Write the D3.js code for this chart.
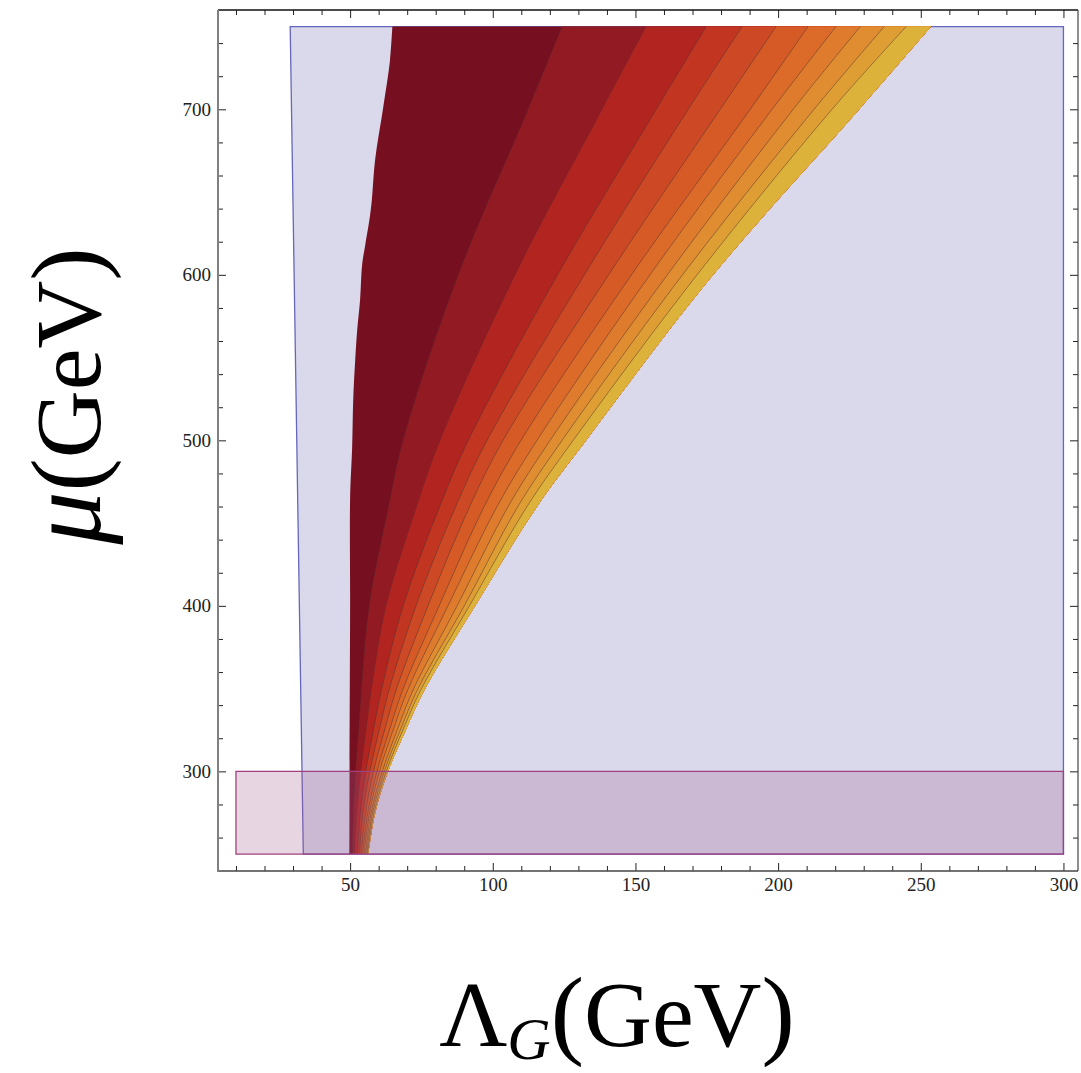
<!DOCTYPE html>
<html>
<head>
<meta charset="utf-8">
<script src="https://cdn.jsdelivr.net/npm/d3@7"></script>
<style>
  html, body { margin: 0; padding: 0; background: #fff; }
  svg { display: block; }
  .tick text { font-family: "Liberation Serif", "DejaVu Serif", serif; font-size: 19px; fill: #222; }
</style>
</head>
<body>
<div id="chart"></div>
<script>
// ---------------- data ----------------
const xMajorTicks = [50, 100, 150, 200, 250, 300];
const xMinorTicks = [10, 20, 30, 40, 60, 70, 80, 90, 110, 120, 130, 140, 160, 170, 180, 190,
                     210, 220, 230, 240, 260, 270, 280, 290];
const yMajorTicks = [300, 400, 500, 600, 700];
const yMinorTicks = [260, 280, 320, 340, 360, 380, 420, 440, 460, 480, 520, 540, 560, 580,
                     620, 640, 660, 680, 720, 740];

// allowed (lavender) region: corners (Λ_G, μ)
const allowedRegion = [[29.0, 750], [300, 750], [300, 250], [33.6, 250]];
// excluded low-μ strip (pink)
const lowMuStrip = [[10, 300], [300, 300], [300, 250], [10, 250]];

// contour bands: μ levels, and Λ_G positions of the 10 interior contour lines at each level
const contourY = [750, 700, 600, 500, 460, 400, 350, 325, 300, 275, 250];
const contourX = [
  [124.3, 153.7, 174.8, 187.4, 199.3, 210.5, 220.3, 228.8, 237.2, 244.9],
  [112.4, 138.3, 157.3, 168.5, 179.7, 190.2, 197.9, 205.3, 212.6, 218.9],
  [ 87.9, 107.8, 122.7, 132.1, 140.6, 148.6, 155.1, 161.2, 166.5, 171.6],
  [ 68.6,  81.5,  91.4,  98.0, 103.6, 109.9, 115.5, 120.1, 124.3, 128.2],
  [ 63.5,  73.3,  81.4,  87.0,  91.9,  97.0, 101.5, 105.4, 108.8, 112.0],
  [ 56.7,  62.6,  68.6,  73.1,  77.3,  81.2,  84.3,  87.5,  90.0,  91.8],
  [ 54.0,  57.5,  61.1,  63.8,  66.3,  68.6,  70.4,  72.3,  73.8,  75.0],
  [ 53.0,  55.6,  58.2,  60.2,  62.1,  63.8,  65.1,  66.5,  67.6,  68.5],
  [ 51.9,  53.7,  55.5,  56.9,  58.2,  59.4,  60.3,  61.3,  62.0,  62.7],
  [ 51.2,  52.4,  53.6,  54.5,  55.4,  56.2,  56.8,  57.4,  57.9,  58.4],
  [ 50.8,  51.6,  52.6,  53.3,  53.9,  54.4,  54.9,  55.4,  55.8,  56.1]
];
// outer (right) edge of the contoured region at each contourY level
const outerEdgeX = [253.6, 228.4, 177.2, 132.7, 115.5, 93.8, 76.3, 69.5, 63.3, 58.8, 56.4];
// left edge of the contoured region
const leftEdgeY = [750, 730, 700, 670, 645, 636, 618, 606, 585, 567, 549, 525, 495, 465, 400, 300, 250];
const leftEdgeX = [64.8, 64.0, 61.5, 58.8, 57.6, 57.0, 55.3, 54.2, 53.5, 52.5, 51.8, 51.1, 50.7, 50.0, 50.0, 49.8, 49.75];

const bandColors = ["#761020", "#921a22", "#b22420", "#c23621", "#cd4824", "#d65a26",
                    "#dc6a29", "#df7b2c", "#e08c30", "#df9e34", "#ddb23a"];

// ---------------- drawing ----------------
const W = 1081, H = 1073;
const svg = d3.select("#chart").append("svg").attr("width", W).attr("height", H);
svg.append("rect").attr("width", W).attr("height", H).attr("fill", "#fff");

const x = d3.scaleLinear().domain([3.7, 305.1]).range([218, 1078]);
const y = d3.scaleLinear().domain([239.8, 760]).range([871, 10]);

const poly = d3.line().x(d => x(d[0])).y(d => y(d[1]));
const curve = d3.line().x(d => x(d[0])).y(d => y(d[1])).curve(d3.curveCatmullRom.alpha(0.5));

// lavender allowed region
svg.append("path")
  .attr("d", poly(allowedRegion) + "Z")
  .attr("fill", "#d9d9eb")
  .attr("stroke", "#6666bb")
  .attr("stroke-width", 1.3);

// contour bands
const outerPts = contourY.map((yy, i) => [outerEdgeX[i], yy]);
const outerRev = outerPts.slice().reverse();
function boundary(k) {
  if (k === 0) return leftEdgeY.map((yy, i) => [leftEdgeX[i], yy]);
  return contourY.map((yy, i) => [contourX[i][k - 1], yy]);
}
const gBands = svg.append("g");
bandColors.forEach((c, k) => {
  const d = curve(boundary(k)) + curve(outerRev).replace(/^M/, "L") + "Z";
  gBands.append("path").attr("d", d).attr("fill", c).attr("stroke", "none");
});
for (let k = 1; k <= 10; k++) {
  gBands.append("path")
    .attr("d", curve(boundary(k)))
    .attr("fill", "none")
    .attr("stroke", "#4a3434")
    .attr("stroke-opacity", k < 3 ? 0.35 : 0.55)
    .attr("stroke-width", 0.9);
}

// pink low-mu strip
svg.append("path")
  .attr("d", poly(lowMuStrip) + "Z")
  .attr("fill", "#a3578b")
  .attr("fill-opacity", 0.25)
  .attr("stroke", "#a0407f")
  .attr("stroke-width", 1.3);

// ---------------- frame & axes ----------------
const fLeft = 218, fRight = 1078, fTop = 10, fBottom = 871;
function styleAxis(g) {
  g.select(".domain").remove();
  g.selectAll(".tick line").attr("stroke", "#222").attr("stroke-width", 1);
}
// bottom
svg.append("g").attr("transform", `translate(0,${fBottom})`)
  .call(d3.axisBottom(x).tickValues(xMajorTicks).tickSize(-8).tickPadding(7).tickFormat(d3.format("d")))
  .call(styleAxis);
svg.append("g").attr("transform", `translate(0,${fBottom})`)
  .call(d3.axisBottom(x).tickValues(xMinorTicks).tickSize(-5).tickFormat(""))
  .call(styleAxis);
// top
svg.append("g").attr("transform", `translate(0,${fTop})`)
  .call(d3.axisTop(x).tickValues(xMajorTicks).tickSize(-8).tickFormat(""))
  .call(styleAxis);
svg.append("g").attr("transform", `translate(0,${fTop})`)
  .call(d3.axisTop(x).tickValues(xMinorTicks).tickSize(-5).tickFormat(""))
  .call(styleAxis);
// left
svg.append("g").attr("transform", `translate(${fLeft},0)`)
  .call(d3.axisLeft(y).tickValues(yMajorTicks).tickSize(-8).tickPadding(7).tickFormat(d3.format("d")))
  .call(styleAxis);
svg.append("g").attr("transform", `translate(${fLeft},0)`)
  .call(d3.axisLeft(y).tickValues(yMinorTicks).tickSize(-5).tickFormat(""))
  .call(styleAxis);
// right
svg.append("g").attr("transform", `translate(${fRight},0)`)
  .call(d3.axisRight(y).tickValues(yMajorTicks).tickSize(-8).tickFormat(""))
  .call(styleAxis);
svg.append("g").attr("transform", `translate(${fRight},0)`)
  .call(d3.axisRight(y).tickValues(yMinorTicks).tickSize(-5).tickFormat(""))
  .call(styleAxis);

// frame lines
svg.append("line").attr("x1", fLeft).attr("x2", fRight).attr("y1", fTop).attr("y2", fTop)
  .attr("stroke", "#111").attr("stroke-width", 1.3);
svg.append("line").attr("x1", fRight).attr("x2", fRight).attr("y1", fTop).attr("y2", fBottom)
  .attr("stroke", "#333").attr("stroke-width", 1.1);
svg.append("line").attr("x1", fLeft).attr("x2", fRight).attr("y1", fBottom).attr("y2", fBottom)
  .attr("stroke", "#444").attr("stroke-width", 1.6);
svg.append("line").attr("x1", fLeft).attr("x2", fLeft).attr("y1", fTop).attr("y2", fBottom + 1)
  .attr("stroke", "#808080").attr("stroke-width", 2);

// ---------------- axis titles ----------------
const serif = '"Liberation Serif", "DejaVu Serif", serif';
const xt = svg.append("text")
  .attr("x", 617).attr("y", 1046)
  .attr("text-anchor", "middle")
  .attr("font-family", serif).attr("font-size", 94).attr("fill", "#000");
xt.append("tspan").text("Λ");
xt.append("tspan").attr("font-style", "italic").attr("font-size", 60).attr("dy", 13).text("G");
xt.append("tspan").attr("font-size", 100).attr("dy", -13).text("(");
xt.append("tspan").text("GeV");
xt.append("tspan").attr("font-size", 100).text(")");

const yt = svg.append("text")
  .attr("transform", "translate(100,396) rotate(-90)")
  .attr("text-anchor", "middle")
  .attr("font-family", serif).attr("font-size", 94).attr("fill", "#000");
yt.append("tspan").attr("font-style", "italic").attr("font-size", 106).text("μ");
yt.append("tspan").attr("font-size", 100).text("(");
yt.append("tspan").text("GeV");
yt.append("tspan").attr("font-size", 100).text(")");
</script>
</body>
</html>
